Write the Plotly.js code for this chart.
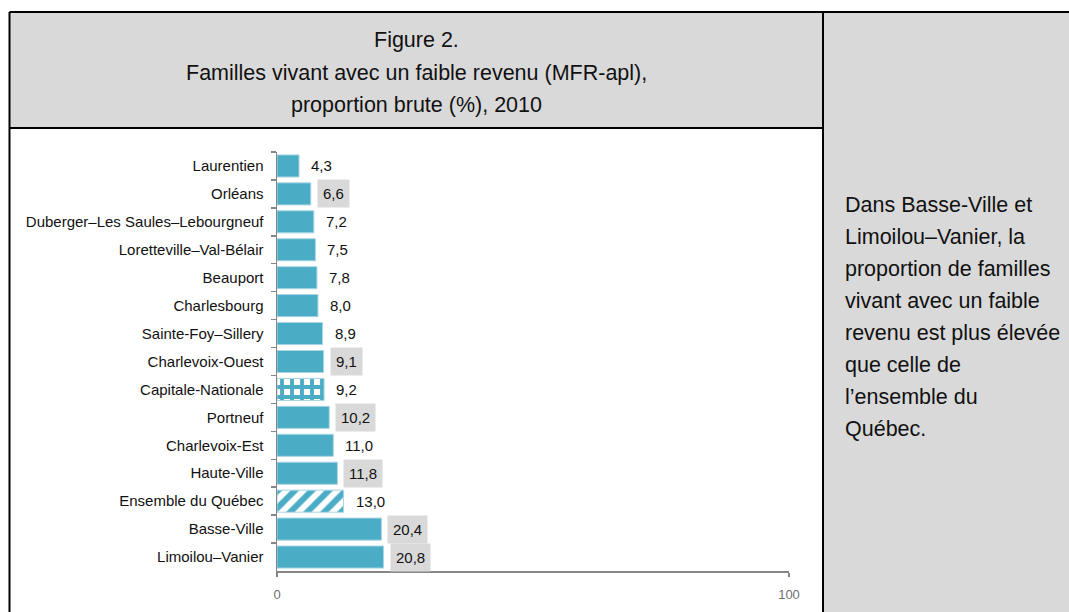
<!DOCTYPE html>
<html>
<head>
<meta charset="utf-8">
<script src="https://cdn.plot.ly/plotly-3.0.1.min.js"></script>
<style>
  html, body { margin: 0; padding: 0; background: #ffffff; }
  #chart { width: 1069px; height: 612px; }
</style>
</head>
<body>
<div id="chart"></div>
<script>
// ---- Data ----
const categories = [
  'Laurentien', 'Orléans', 'Duberger–Les Saules–Lebourgneuf', 'Loretteville–Val-Bélair',
  'Beauport', 'Charlesbourg', 'Sainte-Foy–Sillery', 'Charlevoix-Ouest', 'Capitale-Nationale',
  'Portneuf', 'Charlevoix-Est', 'Haute-Ville', 'Ensemble du Québec', 'Basse-Ville', 'Limoilou–Vanier'
];
const values = [4.3, 6.6, 7.2, 7.5, 7.8, 8.0, 8.9, 9.1, 9.2, 10.2, 11.0, 11.8, 13.0, 20.4, 20.8];
const highlighted = [false, true, false, false, false, false, false, true, false, true, false, true, false, true, true];
const patterns = ['', '', '', '', '', '', '', '', '+', '', '', '', '/', '', ''];
const patternSizes = [12, 12, 12, 12, 12, 12, 12, 12, 10, 12, 12, 12, 12, 12, 12];
const patternSolidity = [0.5, 0.5, 0.5, 0.5, 0.5, 0.5, 0.5, 0.5, 0.62, 0.5, 0.5, 0.5, 0.5, 0.5, 0.5];
const xTickVals = [0, 100];
const titleLines = ['Figure 2.', 'Familles vivant avec un faible revenu (MFR-apl),', 'proportion brute (%), 2010'];
const noteLines = ['Dans Basse-Ville et', 'Limoilou–Vanier, la', 'proportion de familles', 'vivant avec un faible',
  'revenu est plus élevée', 'que celle de', 'l’ensemble du', 'Québec.'];

// ---- Layout helpers (pixel -> paper) ----
const W = 1069, H = 612;
const PL = 277, PR = 789, PT = 152, PB = 571;
const fx = px => (px - PL) / (PR - PL);
const fy = py => (PB - py) / (PB - PT);

const FONT = 'Liberation Sans, Arial, sans-serif';
const TEAL = '#4bacc6';
const GREY = '#d9d9d9';

const trace = {
  type: 'bar',
  orientation: 'h',
  x: values,
  y: categories,
  width: 0.79,
  marker: {
    color: TEAL,
    line: { color: '#a8d6e3', width: 1 },
    pattern: {
      shape: patterns,
      fgcolor: TEAL,
      bgcolor: '#ffffff',
      size: patternSizes,
      solidity: patternSolidity,
      fillmode: 'replace'
    }
  },
  hoverinfo: 'x+y'
};

const annotations = [];
titleLines.forEach((t, i) => {
  annotations.push({
    text: t, xref: 'paper', yref: 'paper', x: fx(416), y: fy(40 + i * 32.5),
    xanchor: 'center', yanchor: 'middle', showarrow: false,
    font: { family: FONT, size: 21.5, color: '#111111' }
  });
});
noteLines.forEach((t, i) => {
  annotations.push({
    text: t, xref: 'paper', yref: 'paper', x: fx(843), y: fy(205 + i * 32),
    xanchor: 'left', yanchor: 'middle', showarrow: false,
    font: { family: FONT, size: 21.5, color: '#111111' }
  });
});
values.forEach((v, i) => {
  annotations.push({
    text: v.toFixed(1).replace('.', ','), xref: 'x', yref: 'y', x: v, y: categories[i],
    xanchor: 'left', yanchor: 'middle', xshift: 6, showarrow: false,
    bgcolor: highlighted[i] ? GREY : 'rgba(0,0,0,0)',
    borderpad: 5, borderwidth: 1, bordercolor: 'rgba(0,0,0,0)',
    font: { family: FONT, size: 15, color: '#111111' }
  });
});

const line = (x0, y0, x1, y1) => ({
  type: 'line', xref: 'paper', yref: 'paper', x0: fx(x0), y0: fy(y0), x1: fx(x1), y1: fy(y1),
  line: { color: '#000000', width: 2 }, layer: 'above'
});
const rect = (x0, y0, x1, y1) => ({
  type: 'rect', xref: 'paper', yref: 'paper', x0: fx(x0), y0: fy(y0), x1: fx(x1), y1: fy(y1),
  fillcolor: GREY, line: { width: 0 }, layer: 'below'
});

const shapes = [
  rect(10, 12, 823, 128),
  rect(823, 12, 1070, 613),
  line(9.5, 12, 1070, 12),
  line(9.5, 12, 9.5, 613),
  line(9.5, 128, 823, 128),
  line(823, 12, 823, 613)
];

const layout = {
  width: W, height: H,
  margin: { l: PL, r: W - PR, t: PT, b: H - PB, autoexpand: false },
  paper_bgcolor: '#ffffff',
  plot_bgcolor: '#ffffff',
  showlegend: false,
  font: { family: FONT, color: '#111111' },
  xaxis: {
    range: [0, 100],
    tickvals: xTickVals,
    showgrid: false, zeroline: false,
    showline: true, linecolor: '#868686', linewidth: 1.5,
    ticks: 'outside', ticklen: 4, tickcolor: '#868686', tickwidth: 1.5,
    ticklabelstandoff: 7,
    tickfont: { family: FONT, size: 13, color: '#6f6f6f' },
    fixedrange: true
  },
  yaxis: {
    type: 'category',
    range: [14.5, -0.5],
    showgrid: false, zeroline: false,
    showline: true, linecolor: '#868686', linewidth: 1.5,
    ticks: 'outside', tickson: 'boundaries', ticklen: 5, tickcolor: '#868686', tickwidth: 1.5,
    ticklabelstandoff: 9,
    tickfont: { family: FONT, size: 15, color: '#111111' },
    fixedrange: true
  },
  annotations: annotations,
  shapes: shapes
};

Plotly.newPlot('chart', [trace], layout, { displayModeBar: false, staticPlot: true });
</script>
</body>
</html>
